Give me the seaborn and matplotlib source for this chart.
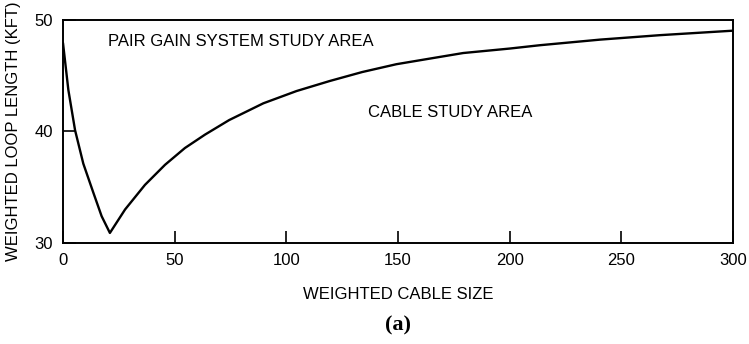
import matplotlib
matplotlib.use("Agg")
import matplotlib.pyplot as plt
import seaborn as sns
import pandas as pd

# Weighted cable size vs. weighted loop length boundary
cable_size = [0, 2.4, 5.4, 9.1, 13.6, 17.3, 21, 27.8, 36.7, 45.7, 54.6,
              63.6, 74.4, 89.7, 104.6, 119.5, 134, 149.3, 164.2, 179.2,
              200, 213.6, 240.5, 267.4, 300]
loop_length = [47.9, 43.7, 40.1, 37.1, 34.5, 32.4, 30.9, 33.0, 35.2, 37.0,
               38.5, 39.7, 41.0, 42.5, 43.6, 44.5, 45.3, 46.0, 46.5, 47.0,
               47.4, 47.7, 48.2, 48.6, 49.0]

x_ticks = [0, 50, 100, 150, 200, 250, 300]
y_ticks = [30, 40, 50]

df = pd.DataFrame({"size": cable_size, "length": loop_length})

sns.set_style("white")
plt.rcParams["font.family"] = ["Liberation Sans", "DejaVu Sans"]
plt.rcParams["text.color"] = "black"

fig = plt.figure(figsize=(7.49, 3.44), dpi=100)
ax = fig.add_axes([0.0841, 0.2936, 0.8945, 0.6497])

sns.lineplot(data=df, x="size", y="length", ax=ax, color="black",
             linewidth=1.7, sort=False)

ax.set_xlim(0, 300)
ax.set_ylim(30, 50)
ax.set_xticks(x_ticks)
ax.set_yticks(y_ticks)
ax.tick_params(direction="in", length=9, width=1.2, labelsize=12,
               colors="black", pad=7, bottom=True, left=True)
for s in ax.spines.values():
    s.set_linewidth(1.4)
    s.set_color("black")

ax.set_xlabel("WEIGHTED CABLE SIZE", fontsize=12, labelpad=14, color="black")
ax.set_ylabel("WEIGHTED LOOP LENGTH (KFT)", fontsize=12, labelpad=10,
              color="black")

ax.text(20, 48.0, "PAIR GAIN SYSTEM STUDY AREA", fontsize=12,
        ha="left", va="center", color="black")
ax.text(136.6, 41.7, "CABLE STUDY AREA", fontsize=12,
        ha="left", va="center", color="black")

fig.text(0.531, 0.055, "(a)", fontsize=16, ha="center", va="center",
         fontweight="bold", color="black",
         family=["Liberation Serif", "DejaVu Serif"])

fig.savefig("out.png", dpi=100)
